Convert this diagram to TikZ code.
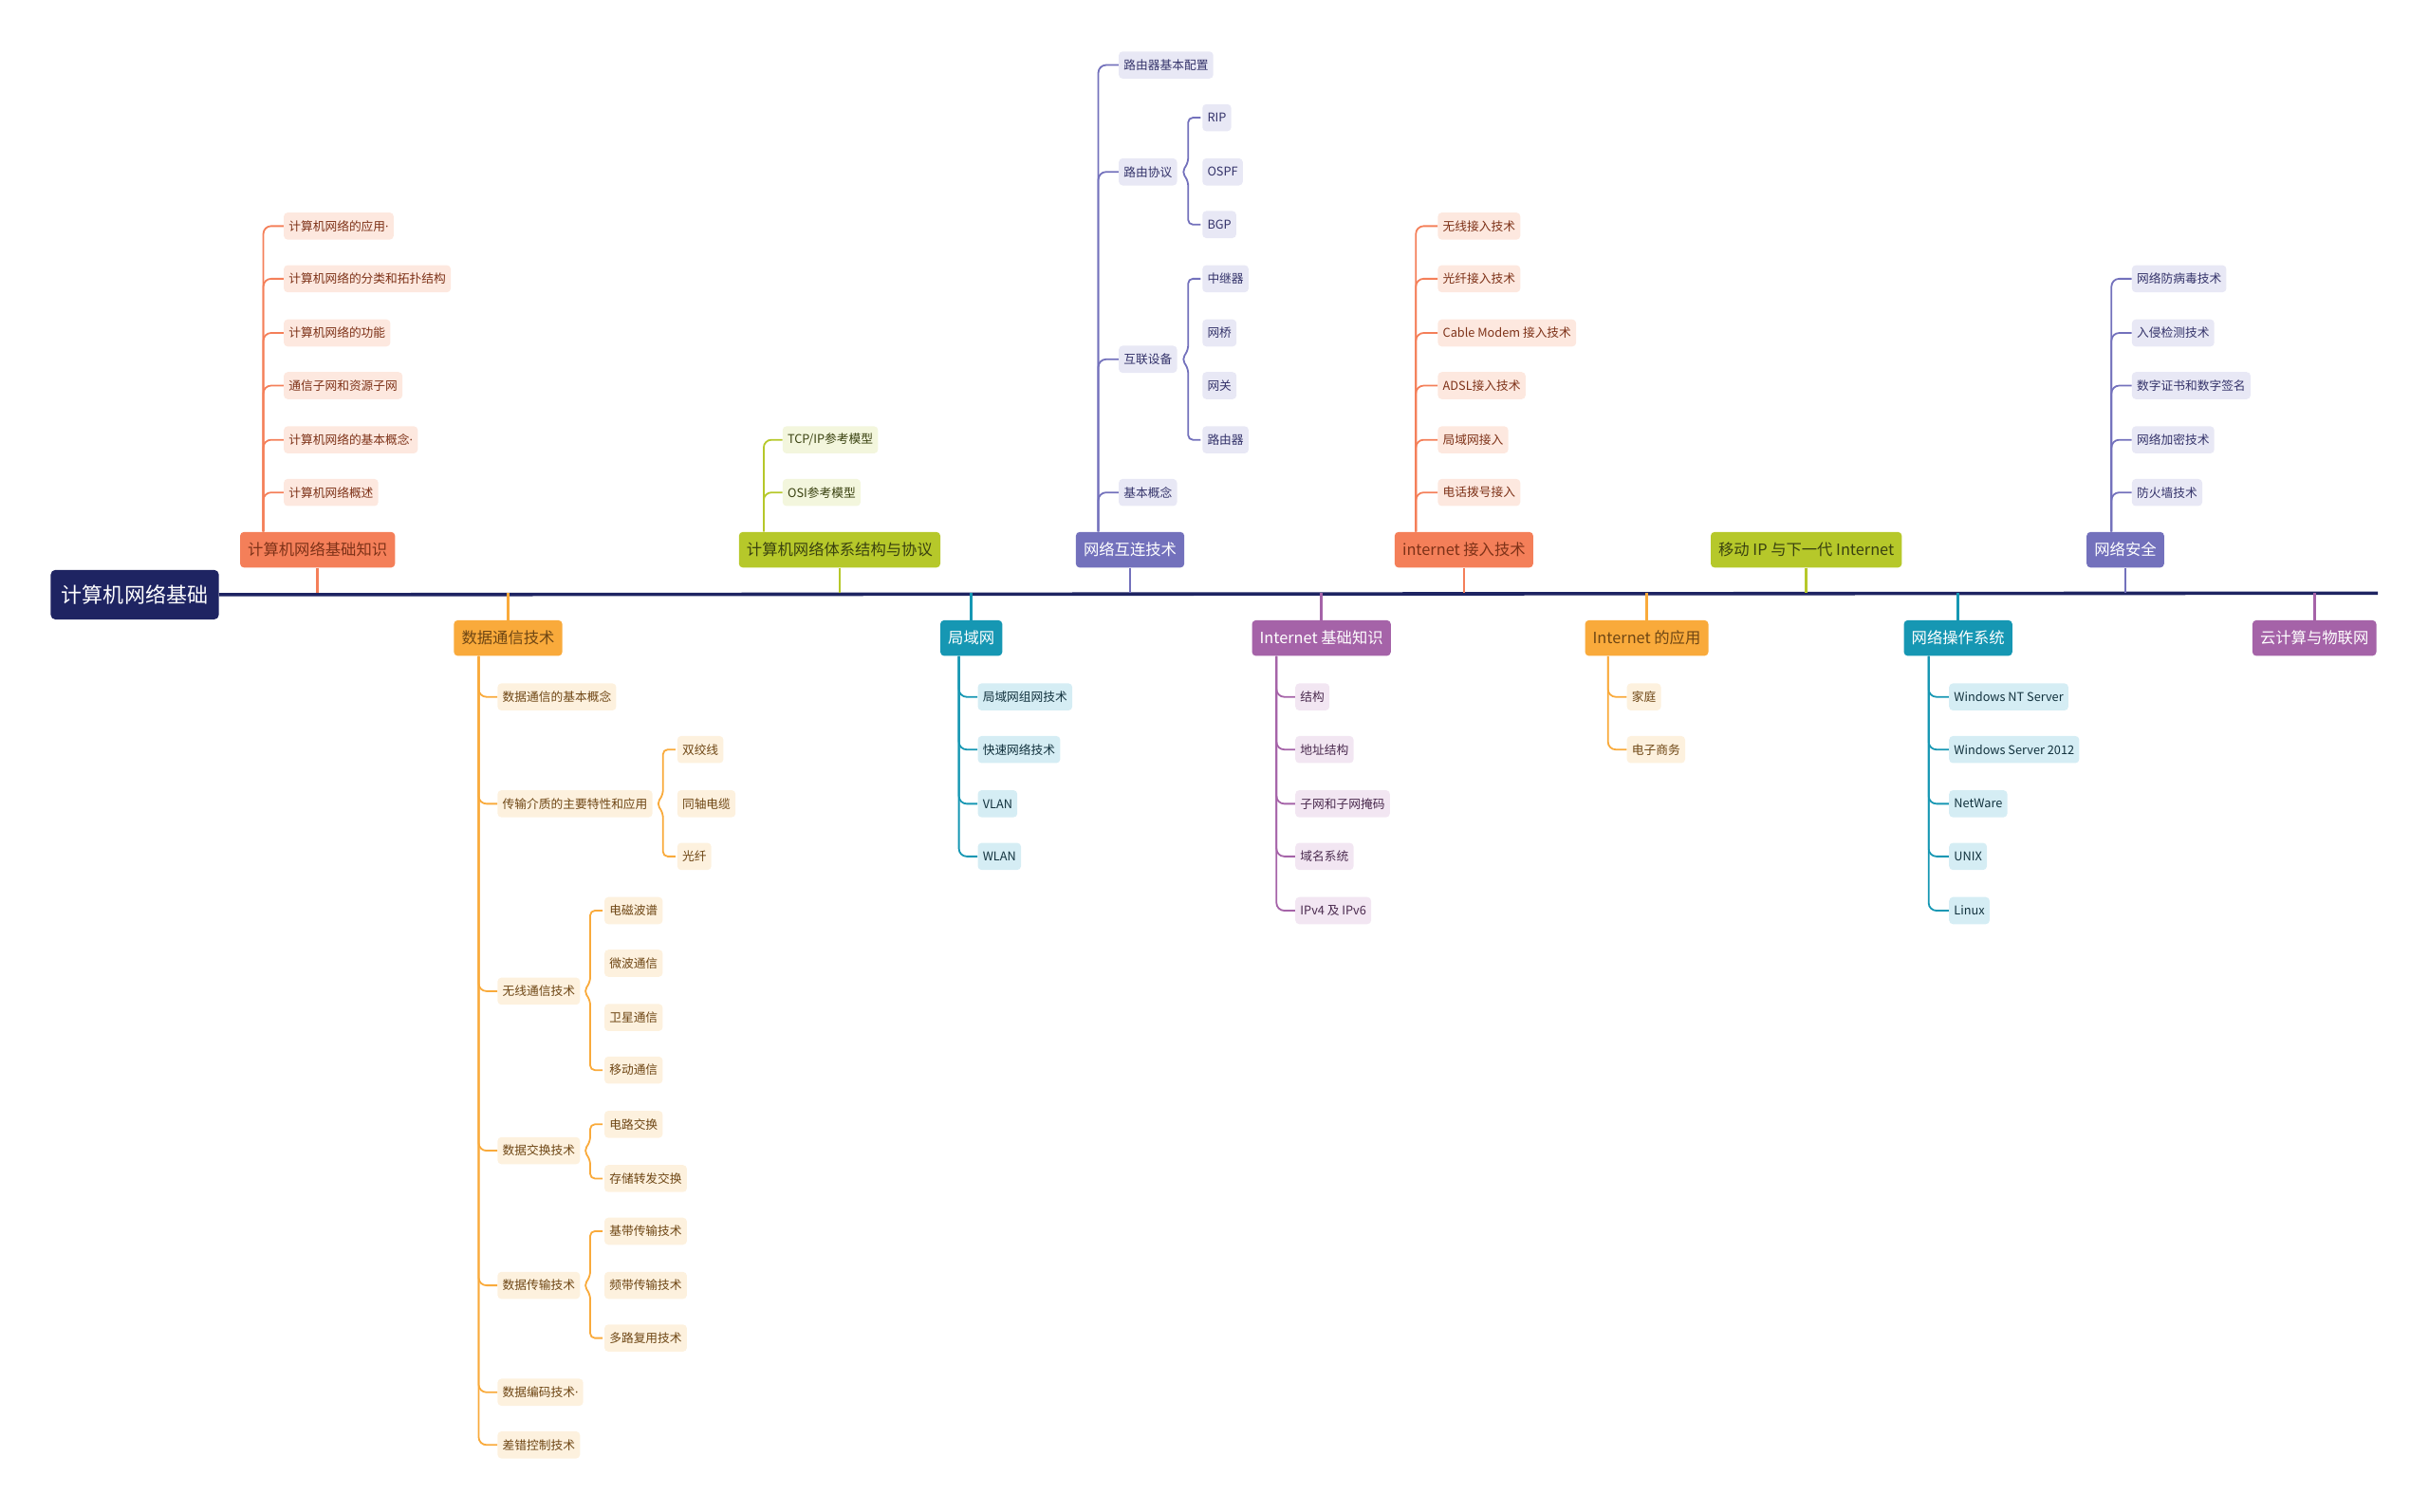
\documentclass[tikz,border=0pt]{standalone}
\usepackage{fontspec}
\setmainfont{Noto Sans CJK SC}
\newfontfamily\latindot{Noto Sans}
\usetikzlibrary{calc}

\definecolor{navy}{HTML}{1E2462}
\definecolor{red}{HTML}{F47F59}
\definecolor{redlt}{HTML}{FDE8DF}
\definecolor{redtxt}{HTML}{7E3218}
\definecolor{amber}{HTML}{F9AA3B}
\definecolor{amberlt}{HTML}{FDF1DE}
\definecolor{ambertxt}{HTML}{6E4614}
\definecolor{lime}{HTML}{B6C82A}
\definecolor{limelt}{HTML}{F3F6DD}
\definecolor{limetxt}{HTML}{3A4210}
\definecolor{blue}{HTML}{7371BC}
\definecolor{bluelt}{HTML}{E8E8F5}
\definecolor{bluetxt}{HTML}{34336A}
\definecolor{teal}{HTML}{1697B3}
\definecolor{teallt}{HTML}{D5EDF4}
\definecolor{tealtxt}{HTML}{12323E}
\definecolor{plum}{HTML}{A563A8}
\definecolor{plumlt}{HTML}{F2E6F2}
\definecolor{plumtxt}{HTML}{4A2A4E}

\tikzset{
  root/.style={fill=navy,text=white,rounded corners=3pt,minimum height=32,inner xsep=7,inner ysep=0,font=\fontsize{13.5}{15}\selectfont},
  topic/.style={rounded corners=2.5pt,minimum height=23,inner xsep=5,inner ysep=0,font=\fontsize{10}{12}\selectfont},
  leaf/.style={rounded corners=2.5pt,minimum height=17.5,inner xsep=3.2,inner ysep=0,anchor=west,font=\fontsize{7.8}{9}\selectfont},
  link/.style={line width=1.1pt,rounded corners=5},
  brace/.style={line width=1.1pt,rounded corners=3},
  stem/.style={line width=1.6pt},
}

\begin{document}
\begin{tikzpicture}[x=1pt,y=1pt]
  \useasboundingbox (0,0) rectangle (1568,-976);

  \node[root] (R) at (87,-384) {计算机网络基础};
  \coordinate (S) at (1535,-383);
  \draw[navy,line width=2.2pt] (R.east) -- (S);

  % main topics above the spine
  \begin{scope}[every node/.style={topic}]
    \node[fill=red,text=redtxt] (T1) at (205,-355) {计算机网络基础知识};
    \node[fill=lime,text=limetxt] (T2) at (542,-355) {计算机网络体系结构与协议};
    \node[fill=blue,text=white] (T3) at (729.5,-355) {网络互连技术};
    \node[fill=red,text=redtxt] (T4) at (945,-355) {internet 接入技术};
    \node[fill=lime,text=limetxt] (T5) at (1166,-355) {移动 IP 与下一代 Internet};
    \node[fill=blue,text=white] (T6) at (1372,-355) {网络安全};
  \end{scope}

  % main topics below the spine
  \begin{scope}[every node/.style={topic}]
    \node[fill=amber,text=ambertxt] (B1) at (328,-412) {数据通信技术};
    \node[fill=teal,text=white] (B2) at (627,-412) {局域网};
    \node[fill=plum,text=white] (B3) at (853,-412) {Internet 基础知识};
    \node[fill=amber,text=ambertxt] (B4) at (1063,-412) {Internet 的应用};
    \node[fill=teal,text=white] (B5) at (1264,-412) {网络操作系统};
    \node[fill=plum,text=white] (B6) at (1494,-412) {云计算与物联网};
  \end{scope}

  \draw[stem,red] (T1.south) -- (T1.south |- S);
  \draw[stem,lime] (T2.south) -- (T2.south |- S);
  \draw[stem,blue] (T3.south) -- (T3.south |- S);
  \draw[stem,red] (T4.south) -- (T4.south |- S);
  \draw[stem,lime] (T5.south) -- (T5.south |- S);
  \draw[stem,blue] (T6.south) -- (T6.south |- S);
  \draw[stem,amber] (B1.north) -- (B1.north |- S);
  \draw[stem,teal] (B2.north) -- (B2.north |- S);
  \draw[stem,plum] (B3.north) -- (B3.north |- S);
  \draw[stem,amber] (B4.north) -- (B4.north |- S);
  \draw[stem,teal] (B5.north) -- (B5.north |- S);
  \draw[stem,plum] (B6.north) -- (B6.north |- S);

  % T1
  \begin{scope}[every node/.style={leaf,fill=redlt,text=redtxt}]
    \node (A1) at (183,-146) {计算机网络的应用{\latindot ·}};
    \node (A2) at (183,-180) {计算机网络的分类和拓扑结构};
    \node (A3) at (183,-215) {计算机网络的功能};
    \node (A4) at (183,-249) {通信子网和资源子网};
    \node (A5) at (183,-284) {计算机网络的基本概念{\latindot ·}};
    \node (A6) at (183,-318) {计算机网络概述};
  \end{scope}
  \coordinate (t1) at (170,-355);
  \draw[link,red] (t1 |- T1.north) |- (A1.west);
  \draw[link,red] (t1 |- T1.north) |- (A2.west);
  \draw[link,red] (t1 |- T1.north) |- (A3.west);
  \draw[link,red] (t1 |- T1.north) |- (A4.west);
  \draw[link,red] (t1 |- T1.north) |- (A5.west);
  \draw[link,red] (t1 |- T1.north) |- (A6.west);

  % T2
  \begin{scope}[every node/.style={leaf,fill=limelt,text=limetxt}]
    \node (P1) at (505,-284) {TCP/IP参考模型};
    \node (P2) at (505,-318) {OSI参考模型};
  \end{scope}
  \coordinate (t2) at (493,-355);
  \draw[link,lime] (t2 |- T2.north) |- (P1.west);
  \draw[link,lime] (t2 |- T2.north) |- (P2.west);

  % T3
  \begin{scope}[every node/.style={leaf,fill=bluelt,text=bluetxt}]
    \node (C1) at (722,-42) {路由器基本配置};
    \node (C2) at (722,-111) {路由协议};
    \node (C3) at (722,-232) {互联设备};
    \node (C4) at (722,-318) {基本概念};
    \node (D1) at (776,-76) {RIP};
    \node (D2) at (776,-111) {OSPF};
    \node (D3) at (776,-145) {BGP};
    \node (E1) at (776,-180) {中继器};
    \node (E2) at (776,-215) {网桥};
    \node (E3) at (776,-249) {网关};
    \node (E4) at (776,-284) {路由器};
  \end{scope}
  \coordinate (t3) at (709,-355);
  \draw[link,blue] (t3 |- T3.north) |- (C1.west);
  \draw[link,blue] (t3 |- T3.north) |- (C2.west);
  \draw[link,blue] (t3 |- T3.north) |- (C3.west);
  \draw[link,blue] (t3 |- T3.north) |- (C4.west);
  \draw[brace,blue] ([xshift=-1]D1.west) -| ($(D1.west |- C2.east)+(-9,6)$) -- ($(D1.west |- C2.east)+(-13,0)$) -- ($(D1.west |- C2.east)+(-9,-6)$) |- ([xshift=-1]D3.west);
  \draw[brace,blue] ([xshift=-1]E1.west) -| ($(E1.west |- C3.east)+(-9,6)$) -- ($(E1.west |- C3.east)+(-13,0)$) -- ($(E1.west |- C3.east)+(-9,-6)$) |- ([xshift=-1]E4.west);

  % T4
  \begin{scope}[every node/.style={leaf,fill=redlt,text=redtxt}]
    \node (F1) at (928,-146) {无线接入技术};
    \node (F2) at (928,-180) {光纤接入技术};
    \node (F3) at (928,-215) {Cable Modem 接入技术};
    \node (F4) at (928,-249) {ADSL接入技术};
    \node (F5) at (928,-284) {局域网接入};
    \node (F6) at (928,-318) {电话拨号接入};
  \end{scope}
  \coordinate (t4) at (914,-355);
  \draw[link,red] (t4 |- T4.north) |- (F1.west);
  \draw[link,red] (t4 |- T4.north) |- (F2.west);
  \draw[link,red] (t4 |- T4.north) |- (F3.west);
  \draw[link,red] (t4 |- T4.north) |- (F4.west);
  \draw[link,red] (t4 |- T4.north) |- (F5.west);
  \draw[link,red] (t4 |- T4.north) |- (F6.west);

  % T6
  \begin{scope}[every node/.style={leaf,fill=bluelt,text=bluetxt}]
    \node (G1) at (1376,-180) {网络防病毒技术};
    \node (G2) at (1376,-215) {入侵检测技术};
    \node (G3) at (1376,-249) {数字证书和数字签名};
    \node (G4) at (1376,-284) {网络加密技术};
    \node (G5) at (1376,-318) {防火墙技术};
  \end{scope}
  \coordinate (t6) at (1363,-355);
  \draw[link,blue] (t6 |- T6.north) |- (G1.west);
  \draw[link,blue] (t6 |- T6.north) |- (G2.west);
  \draw[link,blue] (t6 |- T6.north) |- (G3.west);
  \draw[link,blue] (t6 |- T6.north) |- (G4.west);
  \draw[link,blue] (t6 |- T6.north) |- (G5.west);

  % B1
  \begin{scope}[every node/.style={leaf,fill=amberlt,text=ambertxt}]
    \node (H1) at (321,-450) {数据通信的基本概念};
    \node (H2) at (321,-519) {传输介质的主要特性和应用};
    \node (H3) at (321,-640) {无线通信技术};
    \node (H4) at (321,-743) {数据交换技术};
    \node (H5) at (321,-830) {数据传输技术};
    \node (H6) at (321,-899) {数据编码技术{\latindot ·}};
    \node (H7) at (321,-933) {差错控制技术};
    \node (J1) at (437,-484) {双绞线};
    \node (J2) at (437,-519) {同轴电缆};
    \node (J3) at (437,-553) {光纤};
    \node (K1) at (390,-588) {电磁波谱};
    \node (K2) at (390,-622) {微波通信};
    \node (K3) at (390,-657) {卫星通信};
    \node (K4) at (390,-691) {移动通信};
    \node (L1) at (390,-726) {电路交换};
    \node (L2) at (390,-761) {存储转发交换};
    \node (M1) at (390,-795) {基带传输技术};
    \node (M2) at (390,-830) {频带传输技术};
    \node (M3) at (390,-864) {多路复用技术};
  \end{scope}
  \coordinate (b1) at (309,-412);
  \draw[link,amber] (b1 |- B1.south) |- (H1.west);
  \draw[link,amber] (b1 |- B1.south) |- (H2.west);
  \draw[link,amber] (b1 |- B1.south) |- (H3.west);
  \draw[link,amber] (b1 |- B1.south) |- (H4.west);
  \draw[link,amber] (b1 |- B1.south) |- (H5.west);
  \draw[link,amber] (b1 |- B1.south) |- (H6.west);
  \draw[link,amber] (b1 |- B1.south) |- (H7.west);
  \draw[brace,amber] ([xshift=-1]J1.west) -| ($(J1.west |- H2.east)+(-9,6)$) -- ($(J1.west |- H2.east)+(-13,0)$) -- ($(J1.west |- H2.east)+(-9,-6)$) |- ([xshift=-1]J3.west);
  \draw[brace,amber] ([xshift=-1]K1.west) -| ($(K1.west |- H3.east)+(-9,6)$) -- ($(K1.west |- H3.east)+(-13,0)$) -- ($(K1.west |- H3.east)+(-9,-6)$) |- ([xshift=-1]K4.west);
  \draw[brace,amber] ([xshift=-1]L1.west) -| ($(L1.west |- H4.east)+(-9,6)$) -- ($(L1.west |- H4.east)+(-13,0)$) -- ($(L1.west |- H4.east)+(-9,-6)$) |- ([xshift=-1]L2.west);
  \draw[brace,amber] ([xshift=-1]M1.west) -| ($(M1.west |- H5.east)+(-9,6)$) -- ($(M1.west |- H5.east)+(-13,0)$) -- ($(M1.west |- H5.east)+(-9,-6)$) |- ([xshift=-1]M3.west);

  % B2
  \begin{scope}[every node/.style={leaf,fill=teallt,text=tealtxt}]
    \node (N1) at (631,-450) {局域网组网技术};
    \node (N2) at (631,-484) {快速网络技术};
    \node (N3) at (631,-519) {VLAN};
    \node (N4) at (631,-553) {WLAN};
  \end{scope}
  \coordinate (b2) at (619,-412);
  \draw[link,teal] (b2 |- B2.south) |- (N1.west);
  \draw[link,teal] (b2 |- B2.south) |- (N2.west);
  \draw[link,teal] (b2 |- B2.south) |- (N3.west);
  \draw[link,teal] (b2 |- B2.south) |- (N4.west);

  % B3
  \begin{scope}[every node/.style={leaf,fill=plumlt,text=plumtxt}]
    \node (Q1) at (836,-450) {结构};
    \node (Q2) at (836,-484) {地址结构};
    \node (Q3) at (836,-519) {子网和子网掩码};
    \node (Q4) at (836,-553) {域名系统};
    \node (Q5) at (836,-588) {IPv4 及 IPv6};
  \end{scope}
  \coordinate (b3) at (824,-412);
  \draw[link,plum] (b3 |- B3.south) |- (Q1.west);
  \draw[link,plum] (b3 |- B3.south) |- (Q2.west);
  \draw[link,plum] (b3 |- B3.south) |- (Q3.west);
  \draw[link,plum] (b3 |- B3.south) |- (Q4.west);
  \draw[link,plum] (b3 |- B3.south) |- (Q5.west);

  % B4
  \begin{scope}[every node/.style={leaf,fill=amberlt,text=ambertxt}]
    \node (U1) at (1050,-450) {家庭};
    \node (U2) at (1050,-484) {电子商务};
  \end{scope}
  \coordinate (b4) at (1038,-412);
  \draw[link,amber] (b4 |- B4.south) |- (U1.west);
  \draw[link,amber] (b4 |- B4.south) |- (U2.west);

  % B5
  \begin{scope}[every node/.style={leaf,fill=teallt,text=tealtxt}]
    \node (V1) at (1258,-450) {Windows NT Server};
    \node (V2) at (1258,-484) {Windows Server 2012};
    \node (V3) at (1258,-519) {NetWare};
    \node (V4) at (1258,-553) {UNIX};
    \node (V5) at (1258,-588) {Linux};
  \end{scope}
  \coordinate (b5) at (1245,-412);
  \draw[link,teal] (b5 |- B5.south) |- (V1.west);
  \draw[link,teal] (b5 |- B5.south) |- (V2.west);
  \draw[link,teal] (b5 |- B5.south) |- (V3.west);
  \draw[link,teal] (b5 |- B5.south) |- (V4.west);
  \draw[link,teal] (b5 |- B5.south) |- (V5.west);
\end{tikzpicture}
\end{document}
